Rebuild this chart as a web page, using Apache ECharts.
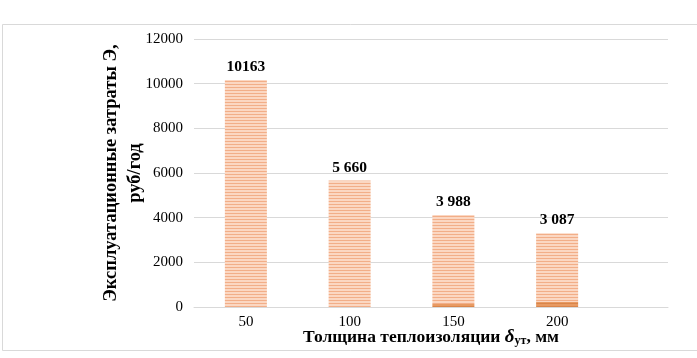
<!DOCTYPE html>
<html>
<head>
<meta charset="utf-8">
<script src="https://cdn.jsdelivr.net/npm/echarts@6/dist/echarts.min.js"></script>
<style>
html,body{margin:0;padding:0;background:#fff;}
#chart{width:697px;height:358px;}
</style>
</head>
<body>
<div id="chart"></div>
<script>
// Data
const categories = ['50', '100', '150', '200'];
const mainValues = [10163, 5660, 3988, 3087];
const baseValues = [0, 0, 130, 220];
const valueLabels = ['10163', '5 660', '3 988', '3 087'];
const yTicks = { min: 0, max: 12000, interval: 2000 };

function stripes(c1, c2) {
  const cv = document.createElement('canvas');
  cv.width = 4; cv.height = 3;
  const ctx = cv.getContext('2d');
  ctx.fillStyle = c2; ctx.fillRect(0, 0, 4, 3);
  ctx.fillStyle = c1; ctx.fillRect(0, 0, 4, 1);
  return { image: cv, repeat: 'repeat' };
}

const font = 'Liberation Serif, Times New Roman, serif';
const chart = echarts.init(document.getElementById('chart'), null, { renderer: 'canvas' });
chart.setOption({
  animation: false,
  backgroundColor: '#fff',
  textStyle: { fontFamily: font },
  graphic: [{
    type: 'rect', left: 0, top: 22, silent: true,
    shape: { width: 696, height: 326 },
    style: { fill: 'none', stroke: '#d9d9d9', lineWidth: 1 }
  }],
  grid: [
    { left: 194, right: 88, top: 39, bottom: 51 },
    { left: 194, right: 29, top: 39, bottom: 51 }
  ],
  xAxis: [
    {
      type: 'category', gridIndex: 0, data: categories,
      axisLine: { show: false }, axisTick: { show: false },
      axisLabel: { color: '#000', fontSize: 15, fontFamily: font, margin: 8 }
    },
    {
      type: 'value', gridIndex: 1, min: 0, max: 1,
      axisLine: { show: true, lineStyle: { color: '#d9d9d9', width: 1 } },
      axisTick: { show: false }, axisLabel: { show: false }, splitLine: { show: false },
      name: '{a|Толщина теплоизоляции }{i|δ}{s|ут}{a|, мм}',
      nameLocation: 'middle', nameGap: 20,
      nameTextStyle: {
        rich: {
          a: { fontFamily: font, fontSize: 17.5, fontWeight: 'bold', color: '#000' },
          i: { fontFamily: font, fontSize: 19, fontWeight: 'bold', fontStyle: 'italic', color: '#000' },
          s: { fontFamily: font, fontSize: 12, fontWeight: 'bold', color: '#000', padding: [8, 0, 0, 0] }
        }
      }
    }
  ],
  yAxis: [
    {
      type: 'value', gridIndex: 0, min: yTicks.min, max: yTicks.max, interval: yTicks.interval,
      axisLine: { show: false }, axisTick: { show: false }, splitLine: { show: false },
      axisLabel: { color: '#000', fontSize: 15, fontFamily: font, margin: 11, formatter: v => String(v) },
      name: 'Эксплуатационные затраты Э,\nруб/год',
      nameLocation: 'middle', nameRotate: 90, nameGap: 47, nameMoveOverlap: false,
      nameTextStyle: { fontFamily: font, fontSize: 18.5, fontWeight: 'bold', color: '#000', lineHeight: 24, align: 'center' }
    },
    {
      type: 'value', gridIndex: 1, min: yTicks.min, max: yTicks.max, interval: yTicks.interval,
      axisLine: { show: false }, axisTick: { show: false }, axisLabel: { show: false },
      splitLine: { show: true, lineStyle: { color: '#d9d9d9', width: 1 } }
    }
  ],
  series: [
    {
      type: 'bar', xAxisIndex: 0, yAxisIndex: 0, stack: 's', barWidth: 42,
      data: baseValues,
      itemStyle: { color: stripes('#d9854a', '#e89a62') }
    },
    {
      type: 'bar', xAxisIndex: 0, yAxisIndex: 0, stack: 's', barWidth: 42,
      data: mainValues,
      itemStyle: { color: stripes('#f2ae88', '#fbd7c2') },
      label: {
        show: true, position: 'top', distance: 5,
        formatter: p => valueLabels[p.dataIndex],
        fontFamily: font, fontSize: 15.5, fontWeight: 'bold', color: '#000'
      }
    }
  ]
});
</script>
</body>
</html>
